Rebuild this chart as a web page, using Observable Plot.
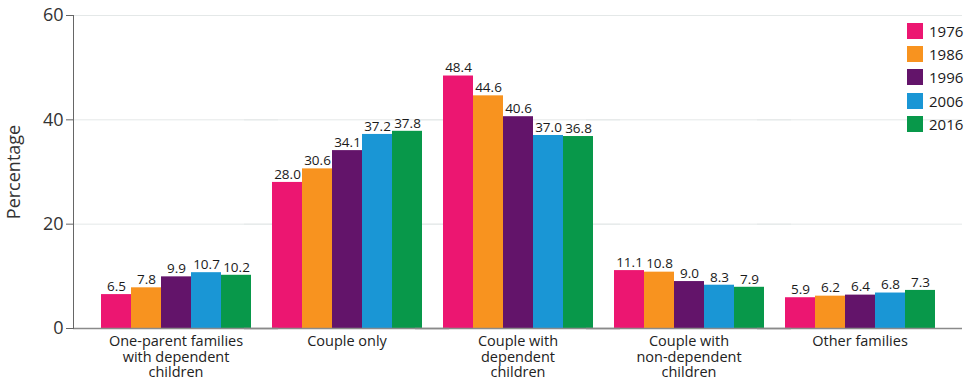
<!DOCTYPE html>
<html><head><meta charset="utf-8">
<script src="https://cdn.jsdelivr.net/npm/d3@7"></script>
<script src="https://cdn.jsdelivr.net/npm/@observablehq/plot@0.6"></script>
<style>
body{margin:0;background:#fff;font-family:"Open Sans",sans-serif;}
#wrap{position:relative;width:975px;height:385px;}
#legend{position:absolute;left:907px;top:19px;font-size:15px;color:#1a1a1a;}
#legend .row{display:flex;align-items:center;height:23.3px;}
#legend .sw{width:16px;height:16px;margin-right:6px;}
</style></head><body><div id="wrap"></div>
<script>
const categories = ["One-parent families with dependent children", "Couple only", "Couple with dependent children", "Couple with non-dependent children", "Other families"];
const categoryLabels = ["One-parent families\nwith dependent\nchildren", "Couple only", "Couple with\ndependent\nchildren", "Couple with\nnon-dependent\nchildren", "Other families"];
const years = ["1976", "1986", "1996", "2006", "2016"];
const colors = ["#ec1671", "#f8931f", "#63146a", "#1a96d5", "#08984a"];
const v1976 = [6.5, 28.0, 48.4, 11.1, 5.9];
const v1986 = [7.8, 30.6, 44.6, 10.8, 6.2];
const v1996 = [9.9, 34.1, 40.6, 9.0, 6.4];
const v2006 = [10.7, 37.2, 37.0, 8.3, 6.8];
const v2016 = [10.2, 37.8, 36.8, 7.9, 7.3];
const yTicks = [0, 20, 40, 60];

const series = [v1976, v1986, v1996, v2006, v2016];
const data = [];
categories.forEach((c, i) => years.forEach((y, j) => data.push({category: c, year: y, value: series[j][i]})));
const labelOf = new Map(categories.map((c, i) => [c, categoryLabels[i]]));

function opts(marks) {
  return {
    width: 975, height: 385,
    marginTop: 15, marginBottom: 57, marginLeft: 73, marginRight: 14,
    style: {fontFamily: "'Open Sans', sans-serif", background: "#fff"},
    fx: {domain: categories, paddingInner: 0.119, paddingOuter: 0.154, label: null},
    x: {domain: years, padding: 0, axis: null},
    y: {domain: [0, 60], label: null},
    color: {domain: years, range: colors},
    marks
  };
}
const bars = () => Plot.barY(data, {fx: "category", x: "year", y: "value", fill: "year"});
// distance from the plot's left edge to the first facet
const probe = Plot.plot(opts([bars()]));
const fxS = probe.scale("fx");
const edge = fxS.apply(categories[0]) - fxS.range[0];

const chart = Plot.plot(opts([
  Plot.gridY(yTicks.slice(1), {stroke: "#e4e8e8", strokeOpacity: 1, insetLeft: -edge, insetRight: -edge}),
  bars(),
  Plot.text(data, {fx: "category", x: "year", y: "value", text: d => d.value.toFixed(1), dy: -8, fontSize: 13.5, fill: "#1a1a1a"}),
  Plot.ruleY([0], {stroke: "#8a8a8a", strokeWidth: 1.5, insetLeft: -edge, insetRight: -edge}),
  Plot.frame({anchor: "left", facetAnchor: "left", dx: -edge, stroke: "#666"}),
  Plot.axisY({ticks: yTicks, tickSize: 7, tickPadding: 3, fontSize: 18, stroke: "#666", fill: "#333", dx: -edge,
    label: "Percentage", labelAnchor: "center", labelOffset: 66 + edge, labelArrow: "none"}),
  Plot.axisFx({anchor: "bottom", tickSize: 0, tickPadding: 7, fontSize: 14.5, lineHeight: 1.05, fill: "#222",
    tickFormat: c => labelOf.get(c), label: null})
]));
const wrap = document.getElementById("wrap");
wrap.appendChild(chart);
const legend = document.createElement("div");
legend.id = "legend";
years.forEach((y, j) => {
  const row = document.createElement("div"); row.className = "row";
  const sw = document.createElement("div"); sw.className = "sw"; sw.style.background = colors[j];
  const t = document.createElement("span"); t.textContent = y;
  row.appendChild(sw); row.appendChild(t); legend.appendChild(row);
});
wrap.appendChild(legend);
</script></body></html>
